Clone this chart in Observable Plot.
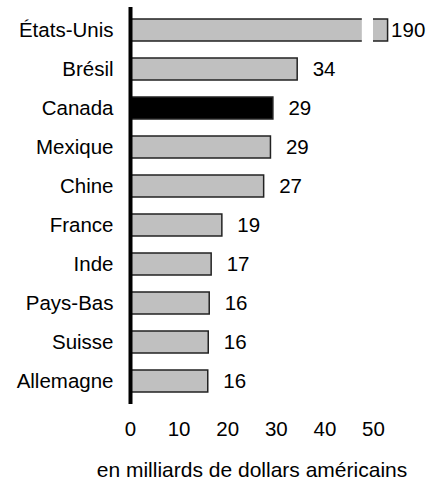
<!DOCTYPE html>
<html>
<head>
<meta charset="utf-8">
<script src="https://cdn.jsdelivr.net/npm/d3@7"></script>
<script src="https://cdn.jsdelivr.net/npm/@observablehq/plot@0.6"></script>
<style>
  html, body { margin: 0; padding: 0; background: #fff; }
  #chart svg { display: block; }
</style>
</head>
<body>
<div id="chart"></div>
<script>
// Data
const countries = ["États-Unis", "Brésil", "Canada", "Mexique", "Chine", "France", "Inde", "Pays-Bas", "Suisse", "Allemagne"];
const values = [190, 34.4, 29.4, 28.9, 27.5, 18.9, 16.7, 16.3, 16.1, 16.0];
const valueLabels = ["190", "34", "29", "29", "27", "19", "17", "16", "16", "16"];
const highlighted = "Canada";
const xTicks = [0, 10, 20, 30, 40, 50];
const axisTitle = "en milliards de dollars américains";

// Broken-axis settings (scale units)
const axisMax = 50;
const brokenBarEnd = 53;
const breakFrom = 47.7;
const breakTo = 50;

const rows = countries.map((c, i) => ({
  country: c,
  value: values[i],
  shown: values[i] > axisMax ? brokenBarEnd : values[i],
  label: valueLabels[i],
  broken: values[i] > axisMax,
  hi: c === highlighted
}));

const fs = "20.5px";

const chart = Plot.plot({
  width: 429,
  height: 480,
  marginLeft: 130,
  marginRight: 56,
  marginTop: 7,
  marginBottom: 76,
  style: { fontFamily: "'Liberation Sans', Arial, sans-serif", fontSize: fs, color: "#000", background: "#fff" },
  x: { domain: [0, axisMax], ticks: xTicks, tickSize: 0, tickPadding: 17, label: null, tickFormat: d3.format("d") },
  y: { domain: countries, paddingInner: 0.44, paddingOuter: 0.22, tickSize: 0, tickPadding: 17, label: null },
  marks: [
    Plot.barX(rows, {
      y: "country",
      x: "shown",
      fill: d => d.hi ? "#000" : "#c0c0c0",
      stroke: "#222",
      strokeWidth: 1.5
    }),
    Plot.rectX(rows.filter(d => d.broken), {
      y: "country",
      x1: () => breakFrom,
      x2: () => breakTo,
      fill: "#fff",
      insetTop: -3,
      insetBottom: -3
    }),
    Plot.text(rows.filter(d => !d.broken), {
      y: "country",
      x: "shown",
      text: "label",
      textAnchor: "start",
      dx: 15,
      fontSize: fs
    }),
    Plot.text(rows.filter(d => d.broken), {
      y: "country",
      x: "shown",
      text: "label",
      textAnchor: "start",
      dx: 3,
      fontSize: fs
    }),
    Plot.ruleX([0], { stroke: "#000", strokeWidth: 4 }),
    Plot.text([axisTitle], {
      text: d => d,
      frameAnchor: "bottom",
      lineAnchor: "middle",
      dy: 66,
      fontSize: "21px"
    })
  ]
});

document.getElementById("chart").appendChild(chart);
</script>
</body>
</html>
